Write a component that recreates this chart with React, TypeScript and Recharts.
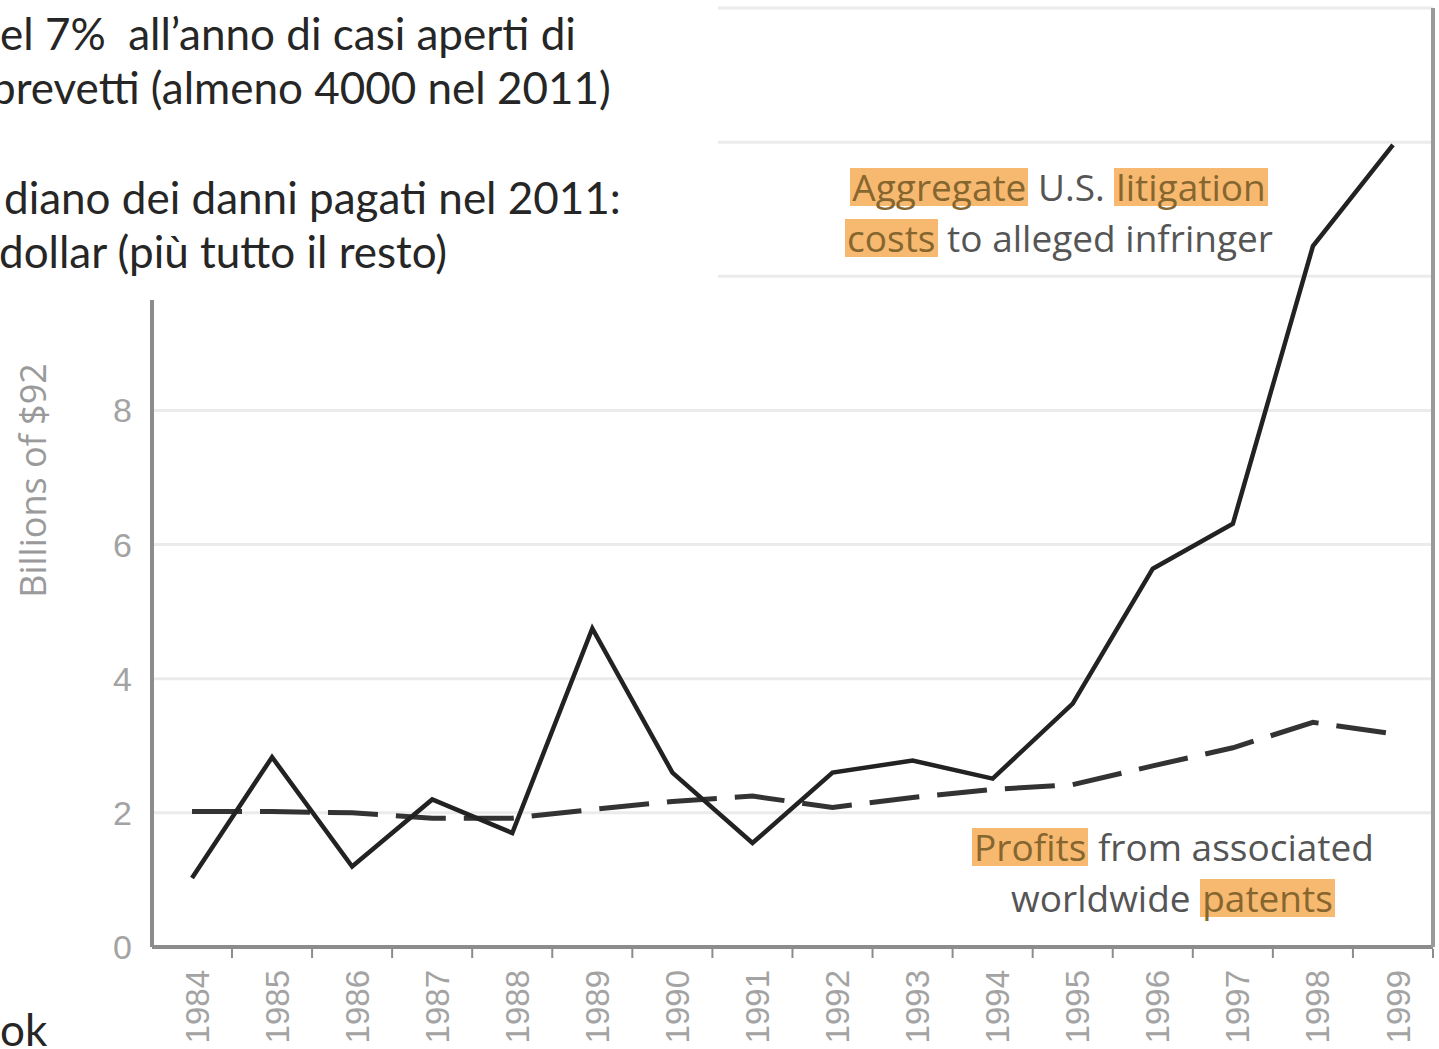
import React from 'react';
import { LineChart, Line, XAxis, YAxis, CartesianGrid, Label } from 'recharts';

const years = [
  '1984', '1985', '1986', '1987', '1988', '1989', '1990', '1991',
  '1992', '1993', '1994', '1995', '1996', '1997', '1998', '1999'
];

// Aggregate U.S. litigation costs to alleged infringer (billions of $92)
const litigationCosts = [
  1.03, 2.83, 1.2, 2.2, 1.7, 4.75, 2.6, 1.55,
  2.6, 2.78, 2.51, 3.63, 5.64, 6.31, 10.45, 11.96
];

// Profits from associated worldwide patents
const patentProfits = [
  2.02, 2.02, 2.0, 1.92, 1.92, 2.05, 2.17, 2.25,
  2.08, 2.23, 2.35, 2.42, 2.7, 2.97, 3.35, 3.18
];

const yTicks = [0, 2, 4, 6, 8, 10, 12, 14];
// the upper labels sit under the slide's text box in the original
const yTickLabels = ['0', '2', '4', '6', '8'];

const data = years.map((year, i) => ({
  year,
  costs: litigationCosts[i],
  profits: patentProfits[i],
}));

const HALF_BAND = 40;
const AXIS_GREY = '#8c8c8c';
const LABEL_GREY = '#a3a3a3';
const HIGHLIGHT = '#f7b96f';

const YearTick = (props: any) => {
  const { x, y, payload } = props;
  return (
    <g>
      <line x1={x + HALF_BAND} x2={x + HALF_BAND} y1={y} y2={y + 9} stroke={AXIS_GREY} strokeWidth={2} />
      <text
        transform={`translate(${x + 5},${y + 21}) rotate(-90)`}
        textAnchor="end"
        dominantBaseline="central"
        fill={LABEL_GREY}
        fontSize={33}
        fontFamily="Liberation Sans, Arial, sans-serif"
      >
        {payload.value}
      </text>
    </g>
  );
};

const ValueTick = (props: any) => {
  const { x, y, payload } = props;
  const label = String(payload.value);
  if (!yTickLabels.includes(label)) return <g />;
  return (
    <text
      x={x}
      y={y}
      textAnchor="end"
      dominantBaseline="central"
      fill={LABEL_GREY}
      fontSize={34}
      fontFamily="Liberation Sans, Arial, sans-serif"
    >
      {label}
    </text>
  );
};

const Hl: React.FC<{ children: React.ReactNode }> = ({ children }) => (
  <span
    style={{
      display: 'inline-block',
      background: HIGHLIGHT,
      color: '#86662f',
      padding: '0 2px',
      lineHeight: '38px',
    }}
  >
    {children}
  </span>
);

const slideText: React.CSSProperties = {
  position: 'absolute',
  fontFamily: 'Lato, Carlito, sans-serif',
  fontSize: 44,
  color: '#262626',
  whiteSpace: 'pre',
  lineHeight: '50px',
};

const noteText: React.CSSProperties = {
  position: 'absolute',
  fontFamily: '"Open Sans", "Noto Sans", sans-serif',
  fontSize: 37,
  color: '#555',
  textAlign: 'center',
  lineHeight: '51px',
  whiteSpace: 'pre',
};

export default function App() {
  return (
    <div
      style={{
        position: 'absolute',
        left: 0,
        top: 0,
        width: 1439,
        height: 1049,
        overflow: 'hidden',
        background: '#fff',
      }}
    >
      <LineChart
        width={1439}
        height={1049}
        data={data}
        margin={{ top: 8, right: 4, bottom: 0, left: 0 }}
        style={{ fontFamily: 'Liberation Sans, Arial, sans-serif' }}
      >
        <CartesianGrid vertical={false} stroke="#ebebeb" strokeWidth={3} />
        <XAxis
          dataKey="year"
          height={102}
          interval={0}
          padding={{ left: HALF_BAND, right: HALF_BAND }}
          tickLine={false}
          tickSize={0}
          tick={<YearTick />}
          axisLine={{ stroke: AXIS_GREY, strokeWidth: 4 }}
        />
        <XAxis
          xAxisId="top"
          dataKey="year"
          orientation="top"
          height={0}
          tick={false}
          tickLine={false}
          axisLine={{ stroke: '#858585', strokeWidth: 5 }}
        />
        <YAxis
          width={152}
          domain={[0, 14]}
          ticks={yTicks}
          interval={0}
          tickLine={false}
          tickMargin={14}
          tick={<ValueTick />}
          axisLine={{ stroke: AXIS_GREY, strokeWidth: 4 }}
        >
          <Label
            content={({ viewBox }: any) => (
              <text
                transform={`translate(${viewBox.x + 32},${viewBox.y + viewBox.height / 2 + 3}) rotate(-90)`}
                textAnchor="middle"
                dominantBaseline="central"
                fill="#9a9a9a"
                fontSize={36}
                fontFamily='"Open Sans", "Noto Sans", sans-serif'
              >
                Billions of $92
              </text>
            )}
          />
        </YAxis>
        <YAxis
          yAxisId="right"
          orientation="right"
          width={2}
          domain={[0, 14]}
          tick={false}
          tickLine={false}
          axisLine={{ stroke: '#9a9a9a', strokeWidth: 4 }}
        />
        <Line
          type="linear"
          dataKey="profits"
          stroke="#333"
          strokeWidth={5}
          strokeDasharray="50 18"
          dot={false}
          isAnimationActive={false}
        />
        <Line
          type="linear"
          dataKey="costs"
          stroke="#222"
          strokeWidth={4.5}
          dot={false}
          isAnimationActive={false}
        />
      </LineChart>

      <div style={{ ...noteText, left: 759, top: 161, width: 600 }}>
        <Hl>Aggregate</Hl> U.S. <Hl>litigation</Hl>
        {'\n'}
        <Hl>costs</Hl> to alleged infringer
      </div>

      <div style={{ ...noteText, left: 873, top: 821, width: 600 }}>
        <Hl>Profits</Hl> from associated
        {'\n'}
        worldwide <Hl>patents</Hl>
      </div>

      <div style={{ position: 'absolute', left: 0, top: 0, width: 718, height: 300, background: '#fff' }}>
        <div style={{ ...slideText, left: 0, top: 8 }}>el 7%  all’anno di casi aperti di</div>
        <div style={{ ...slideText, left: -9, top: 62 }}>brevetti (almeno 4000 nel 2011)</div>
        <div style={{ ...slideText, left: 4, top: 172 }}>diano dei danni pagati nel 2011:</div>
        <div style={{ ...slideText, left: -1, top: 226 }}>dollar (più tutto il resto)</div>
      </div>

      <div style={{ ...slideText, left: 0, top: 1004 }}>ok</div>
    </div>
  );
}
